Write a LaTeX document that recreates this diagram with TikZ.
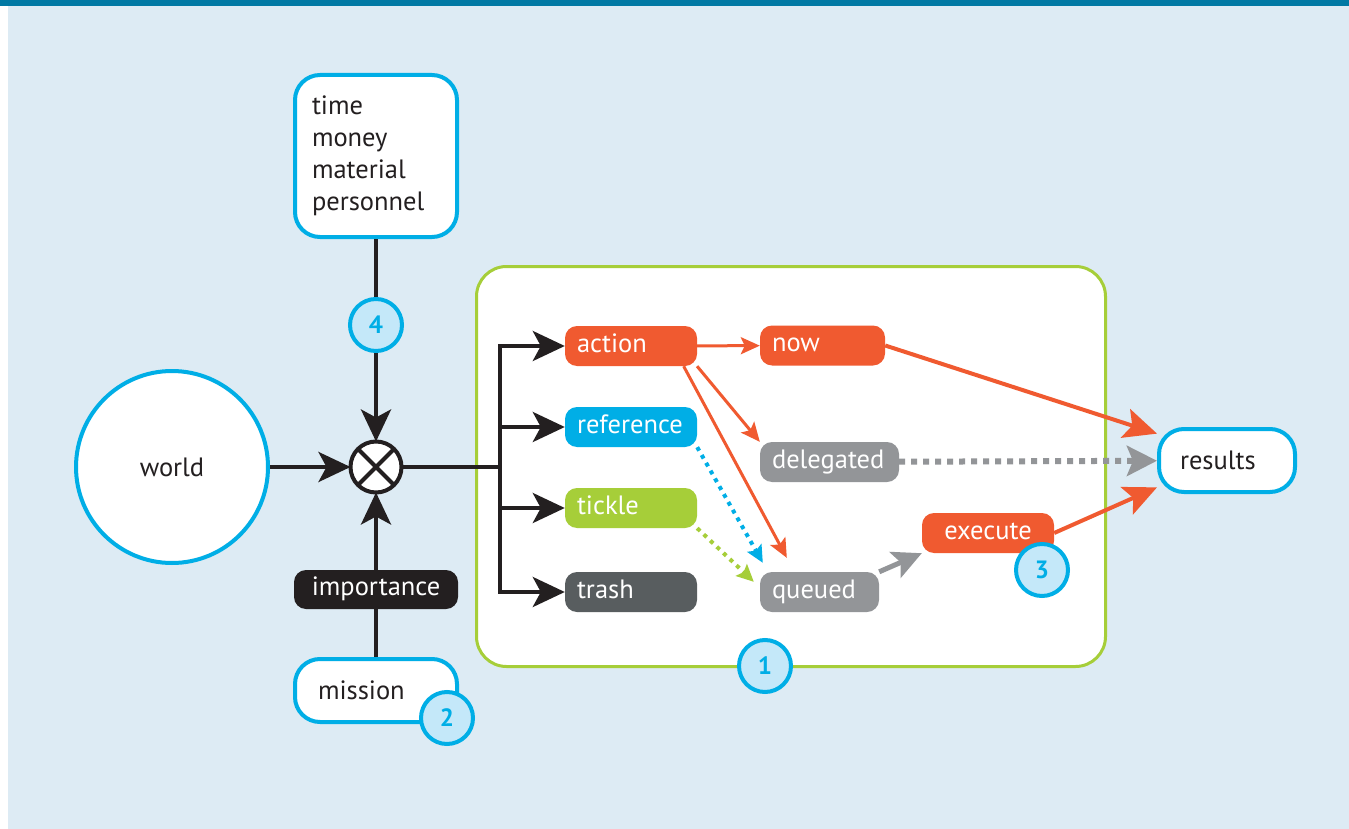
\documentclass[tikz,border=0pt]{standalone}
\usepackage{fontspec}
\setmainfont{PT Sans}
\usetikzlibrary{arrows.meta,calc,positioning}
\definecolor{skyback}{RGB}{221,235,244}
\definecolor{barblue}{RGB}{0,121,164}
\definecolor{cyanline}{RGB}{0,174,230}
\definecolor{cyanfill}{RGB}{196,232,249}
\definecolor{actorange}{RGB}{240,90,48}
\definecolor{limegreen}{RGB}{166,206,57}
\definecolor{midgray}{RGB}{147,149,152}
\definecolor{darkslate}{RGB}{88,93,95}
\definecolor{inkblack}{RGB}{35,31,32}
\begin{document}
\begin{tikzpicture}[x=1pt, y=-1pt,
    every node/.style={font=\fontsize{26.5}{32}\selectfont, text=inkblack},
    whitebox/.style={draw=cyanline, line width=4pt, fill=white, rounded corners=25pt},
    tag/.style={rounded corners=12pt, text=white, minimum height=40pt, inner xsep=12pt, inner ysep=0pt, text height=18pt, text depth=6pt, align=left},
    badge/.style={circle, draw=cyanline, line width=4pt, fill=cyanfill, minimum size=52pt, inner sep=0pt, text=cyanline, font=\fontsize{25}{25}\selectfont\bfseries},
    blackline/.style={draw=inkblack, line width=4pt},
    blackarrow/.style={blackline, -{Stealth[length=32pt, width=30pt, inset=8pt]}},
    orangethin/.style={draw=actorange, line width=3pt, -{Stealth[length=19pt, width=17pt, inset=4pt]}},
    orangethick/.style={draw=actorange, line width=4pt, -{Stealth[length=33pt, width=30pt, inset=7pt]}},
    graythick/.style={draw=midgray, line width=5pt, -{Stealth[length=29pt, width=28pt, inset=6pt]}},
    graydots/.style={draw=midgray, line width=6pt, dash pattern=on 6pt off 6pt, -{Stealth[length=30pt, width=30pt, inset=6pt]}},
    bluedots/.style={draw=cyanline, line width=4pt, dash pattern=on 4pt off 5pt, -{Stealth[length=17pt, width=16pt, inset=3pt]}},
    greendots/.style={draw=limegreen, line width=4pt, dash pattern=on 4pt off 5pt, -{Stealth[length=17pt, width=16pt, inset=3pt]}}
]
\fill[skyback] (0,0) rectangle (1349,829);
\fill[white] (0,6) rectangle (8,829);
\fill[barblue] (0,0) rectangle (1349,6);
\useasboundingbox (0,0) rectangle (1349,829);

\node[circle, draw=cyanline, line width=4pt, fill=white, minimum size=192pt] (world) at (172,467) {world};
\node[circle, draw=inkblack, line width=4pt, fill=white, minimum size=51pt, outer sep=0pt] (mix) at (376,467) {};
\draw[blackline] (mix.45) -- (mix.225) (mix.135) -- (mix.315);
\node[whitebox, minimum width=162pt, minimum height=162pt, text width=128pt, align=left] (means) at (376,156) {time\\money\\material\\personnel};
\node[badge] (four) at (376,325) {4};
\node[rounded corners=12pt, fill=inkblack, text=white, minimum width=164pt, minimum height=39pt, text height=18pt, text depth=6pt] (importance) at (376,589.5) {importance};
\node[whitebox, minimum width=162pt, minimum height=63pt, text width=116pt, align=left] (mission) at (376,690.5) {mission};
\node[badge] (two) at (447,718) {2};

\node[draw=limegreen, line width=3pt, fill=white, rounded corners=30pt, minimum width=629pt, minimum height=400pt] (triage) at (791,466.5) {};
\node[badge] (one) at (765,666) {1};

\node[tag, fill=actorange, text width=108pt] (action) at (631,346) {action};
\node[tag, fill=cyanline, text width=108pt] (reference) at (631,427) {reference};
\node[tag, fill=limegreen, text width=108pt] (tickle) at (631,508) {tickle};
\node[tag, fill=darkslate, text width=108pt] (trash) at (631,592) {trash};
\node[tag, fill=actorange, text width=101pt] (now) at (822.5,345.5) {now};
\node[tag, fill=midgray, text width=115pt] (delegated) at (829.5,462) {delegated};
\node[tag, fill=midgray, text width=95pt] (queued) at (819.5,592) {queued};
\node[tag, fill=actorange, text width=108pt, align=center] (execute) at (988,533) {execute};
\node[badge] (three) at (1042,570) {3};
\node[whitebox, minimum width=136pt, minimum height=63pt, text width=94pt, align=left] (results) at (1227,460.5) {results};

\coordinate (split) at (500,467);
\draw
(means) edge[blackline] (four)
(four) edge[blackarrow] (mix)
(world) edge[blackarrow] (mix)
(mission) edge[blackline] (importance)
(importance) edge[blackarrow] (mix)
(mix) edge[blackline] (split);
\draw[blackarrow] (split) |- (action);
\draw[blackarrow] (split) |- (reference);
\draw[blackarrow] (split) |- (tickle);
\draw[blackarrow] (split) |- (trash);
\draw
(action) edge[orangethin] (now)
(action.-17) edge[orangethin] (delegated.north west)
(action.-21) edge[orangethin] ($(queued.north west)+(27,-14)$)
(reference.south east) edge[bluedots] ($(queued.north west)+(3,-9)$)
(tickle.south east) edge[greendots] ($(queued.north west)+(-6,10)$)
(queued.north east) edge[graythick] (execute.south west)
(delegated) edge[graydots] (results)
(now.east) edge[orangethick] (results.159)
(execute.east) edge[orangethick] (results.201);
\end{tikzpicture}
\end{document}
